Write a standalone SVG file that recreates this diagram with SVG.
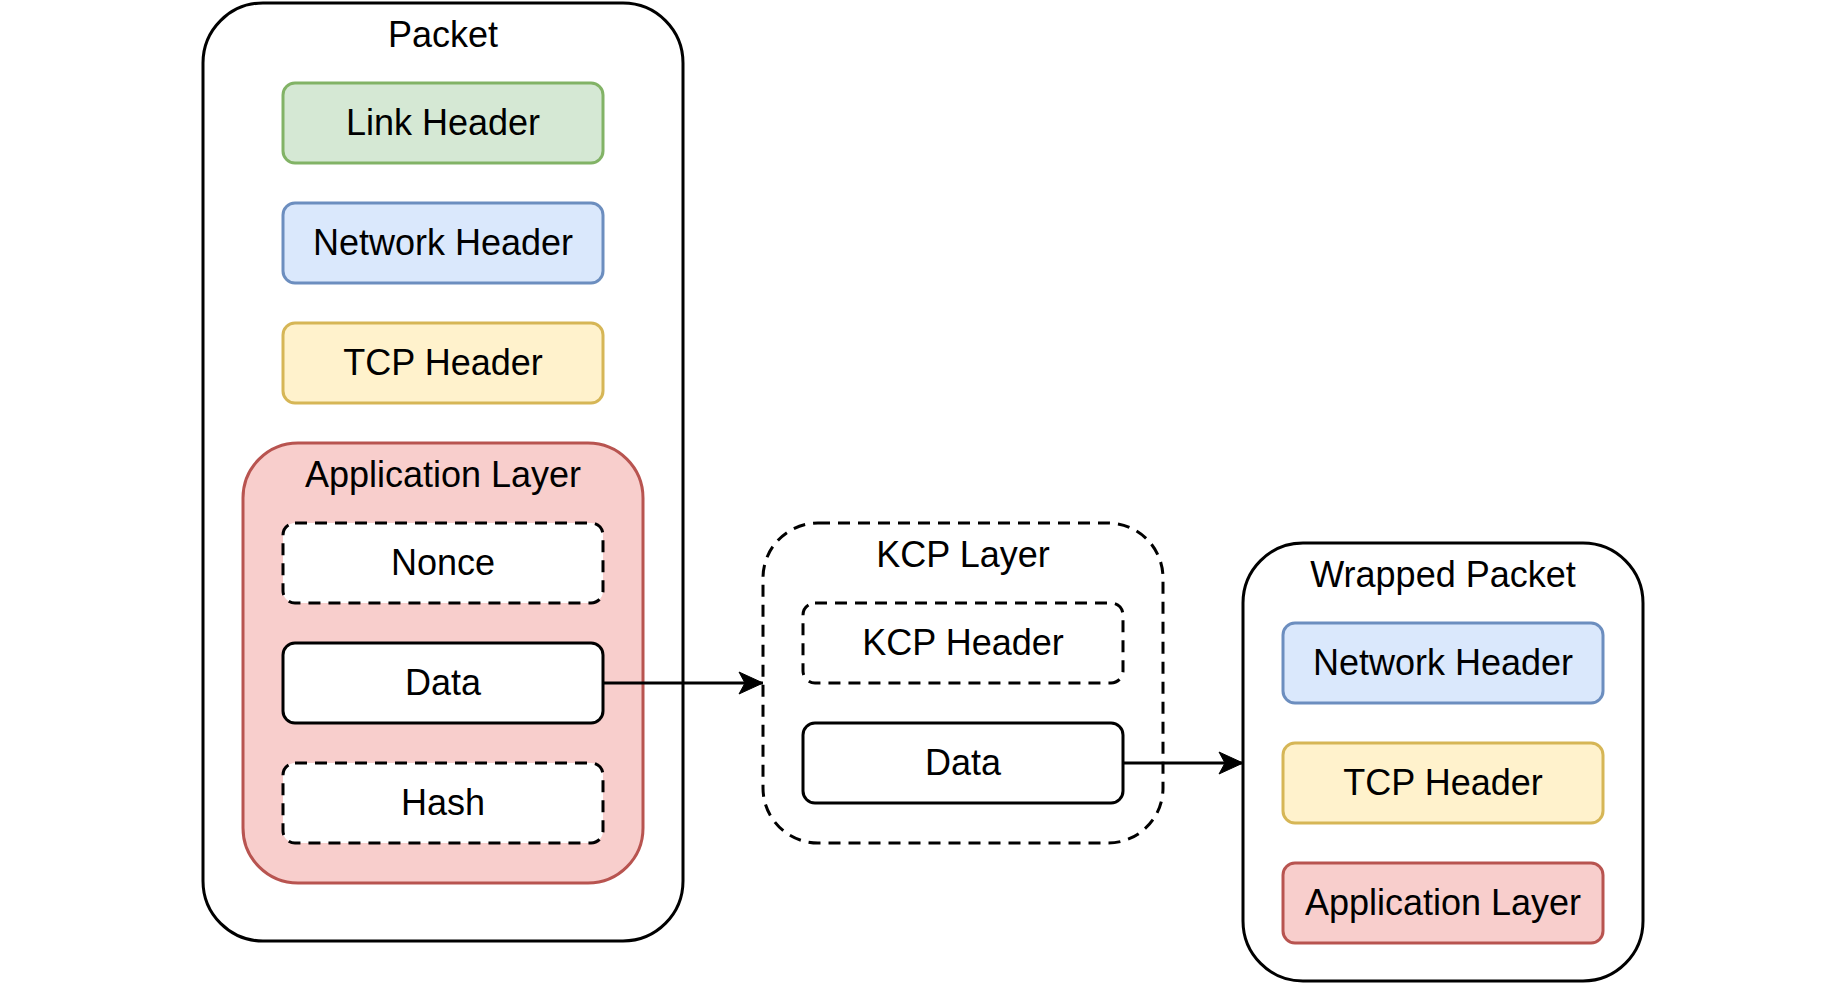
<svg xmlns="http://www.w3.org/2000/svg" width="1844" height="984" viewBox="0 0 1844 984">
<style>
text{font-family:"Liberation Sans",Arial,sans-serif;font-size:36px;fill:#000;text-anchor:middle}
.outer{fill:#fff;stroke:#000;stroke-width:3}
.dash{fill:#fff;stroke:#000;stroke-width:3;stroke-dasharray:12 8}
.plain{fill:#fff;stroke:#000;stroke-width:3}
.green{fill:#d5e8d4;stroke:#82b366;stroke-width:3}
.blue{fill:#dae8fc;stroke:#6c8ebf;stroke-width:3}
.yellow{fill:#fff2cc;stroke:#d6b656;stroke-width:3}
.red{fill:#f8cecc;stroke:#b85450;stroke-width:3}
.edge{fill:none;stroke:#000;stroke-width:3}
</style>
<defs>
<marker id="arr" markerUnits="userSpaceOnUse" viewBox="0 0 26 26" refX="25" refY="13" markerWidth="26" markerHeight="26" orient="auto">
<path d="M25,13 L1,2 L7,13 L1,24 Z" fill="#000" stroke="#000" stroke-width="1"/>
</marker>
</defs>
<rect width="1844" height="984" fill="#fff"/>
<g id="packet">
<rect class="outer" x="203" y="3" width="480" height="938" rx="60" ry="60"/>
<text x="443" y="47">Packet</text>
</g>
<g id="link-header">
<rect class="green" x="283" y="83" width="320" height="80" rx="12"/>
<text x="443" y="135">Link Header</text>
</g>
<g id="network-header">
<rect class="blue" x="283" y="203" width="320" height="80" rx="12"/>
<text x="443" y="255">Network Header</text>
</g>
<g id="tcp-header">
<rect class="yellow" x="283" y="323" width="320" height="80" rx="12"/>
<text x="443" y="375">TCP Header</text>
</g>
<g id="application-layer">
<rect class="red" x="243" y="443" width="400" height="440" rx="55"/>
<text x="443" y="487">Application Layer</text>
</g>
<g id="nonce">
<rect class="dash" x="283" y="523" width="320" height="80" rx="12"/>
<text x="443" y="575">Nonce</text>
</g>
<g id="data1">
<rect class="plain" x="283" y="643" width="320" height="80" rx="12"/>
<text x="443" y="695">Data</text>
</g>
<g id="hash">
<rect class="dash" x="283" y="763" width="320" height="80" rx="12"/>
<text x="443" y="815">Hash</text>
</g>
<g id="kcp-layer">
<rect class="dash" x="763" y="523" width="400" height="320" rx="55"/>
<text x="963" y="567">KCP Layer</text>
</g>
<g id="kcp-header">
<rect class="dash" x="803" y="603" width="320" height="80" rx="12"/>
<text x="963" y="655">KCP Header</text>
</g>
<g id="data2">
<rect class="plain" x="803" y="723" width="320" height="80" rx="12"/>
<text x="963" y="775">Data</text>
</g>
<g id="wrapped-packet">
<rect class="outer" x="1243" y="543" width="400" height="438" rx="60"/>
<text x="1443" y="587">Wrapped Packet</text>
</g>
<g id="w-network-header">
<rect class="blue" x="1283" y="623" width="320" height="80" rx="12"/>
<text x="1443" y="675">Network Header</text>
</g>
<g id="w-tcp-header">
<rect class="yellow" x="1283" y="743" width="320" height="80" rx="12"/>
<text x="1443" y="795">TCP Header</text>
</g>
<g id="w-application-layer">
<rect class="red" x="1283" y="863" width="320" height="80" rx="12"/>
<text x="1443" y="915">Application Layer</text>
</g>
<g id="connectors">
<path class="edge" d="M603,683 L763,683" marker-end="url(#arr)"/>
<path class="edge" d="M1123,763 L1243,763" marker-end="url(#arr)"/>
</g>
</svg>
